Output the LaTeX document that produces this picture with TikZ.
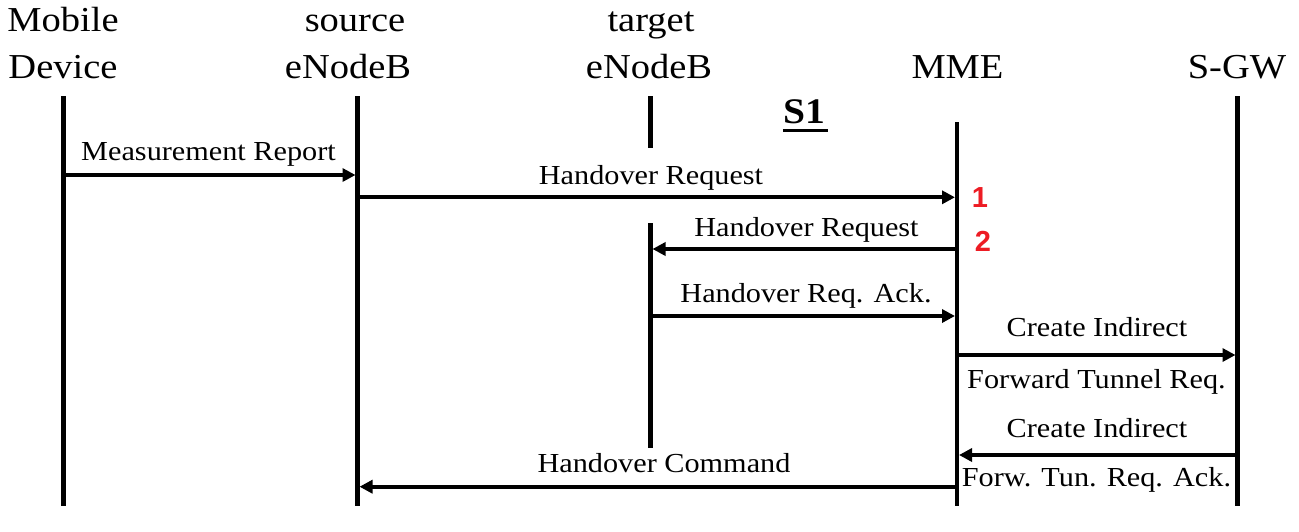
\documentclass[tikz,border=0pt]{standalone}
\usepackage{fontspec}
\setmainfont{Liberation Serif}[FakeStretch=1.1]
\newfontfamily\numfont{Liberation Sans}
\usetikzlibrary{arrows.meta}
\definecolor{numred}{RGB}{237,28,36}
\begin{document}
\begin{tikzpicture}[x=1pt,y=-1pt,
  hdr/.style={font=\fontsize{35}{40}\selectfont, anchor=base, inner sep=0pt},
  lbl/.style={font=\fontsize{27.5}{32}\selectfont, anchor=base, inner sep=0pt},
  life/.style={line width=4.5pt},
  msg/.style={line width=4pt, -{Triangle[length=13pt,width=13pt]}, shorten >=2pt},
  num/.style={font=\numfont\bfseries\fontsize{29}{32}\selectfont, text=numred, anchor=base, inner sep=0pt}]
\useasboundingbox (0,0) rectangle (1299,531);
% lifeline positions
\coordinate (Lmob) at (63.5,0);
\coordinate (Lsrc) at (357.5,0);
\coordinate (Ltgt) at (650.5,0);
\coordinate (Lmme) at (957,0);
\coordinate (Lsgw) at (1237.5,0);
% headers
\node[hdr] (mob1) at (63,31.5) {Mobile};
\node[hdr] (mob2) at (63,78) {Device};
\node[hdr] (src1) at (355,31.5) {source};
\node[hdr] (src2) at (348,78) {eNodeB};
\node[hdr] (tgt1) at (651,31.5) {target};
\node[hdr] (tgt2) at (649,78) {eNodeB};
\node[hdr] (mme) at (957.5,78) {MME};
\node[hdr] (sgw) at (1237,78) {S-GW};
% S1 label
\node[font=\bfseries\fontsize{36}{40}\selectfont, anchor=base, inner sep=0pt] (s1) at (804,123) {S1};
\draw[line width=3pt] ([yshift=-7pt]s1.base west) -- ([yshift=-7pt,xshift=3pt]s1.base east);
% lifelines
\draw[life] (Lmob |- 0,96) -- (Lmob |- 0,506);
\draw[life] (Lsrc |- 0,96) -- (Lsrc |- 0,506);
\draw[life] (Ltgt |- 0,96) -- (Ltgt |- 0,148);
\draw[life] (Ltgt |- 0,223) -- (Ltgt |- 0,448);
\draw[life] (Lmme |- 0,122) -- (Lmme |- 0,506);
\draw[life] (Lsgw |- 0,96) -- (Lsgw |- 0,506);
% messages
\draw[msg] (Lmob |- 0,175) -- (Lsrc |- 0,175);
\node[lbl] (l1) at (208.5,160) {Measurement Report};
\draw[msg] (Lsrc |- 0,197.3) -- (Lmme |- 0,197.3);
\node[lbl] (l2) at (651,184) {Handover Request};
\draw[msg] (Lmme |- 0,249) -- (Ltgt |- 0,249);
\node[lbl] (l3) at (806.5,236) {Handover Request};
\draw[msg] (Ltgt |- 0,316) -- (Lmme |- 0,316);
\node[lbl] (l4) at (806,302) {Handover Req. Ack.};
\draw[msg] (Lmme |- 0,355) -- (Lsgw |- 0,355);
\node[lbl] (l5a) at (1097,336) {Create Indirect};
\node[lbl] (l5b) at (1096.5,388) {Forward Tunnel Req.};
\draw[msg] (Lsgw |- 0,455) -- (Lmme |- 0,455);
\node[lbl] (l6a) at (1097,437) {Create Indirect};
\node[lbl] (l6b) at (1096.5,486.5) {Forw. Tun. Req. Ack.};
\draw[msg] (Lmme |- 0,486.7) -- (Lsrc |- 0,486.7);
\node[lbl] (l7) at (664,472.5) {Handover Command};
% red numbers
\node[num] (n1) at (980,207) {1};
\node[num] (n2) at (983,251) {2};
\end{tikzpicture}
\end{document}
